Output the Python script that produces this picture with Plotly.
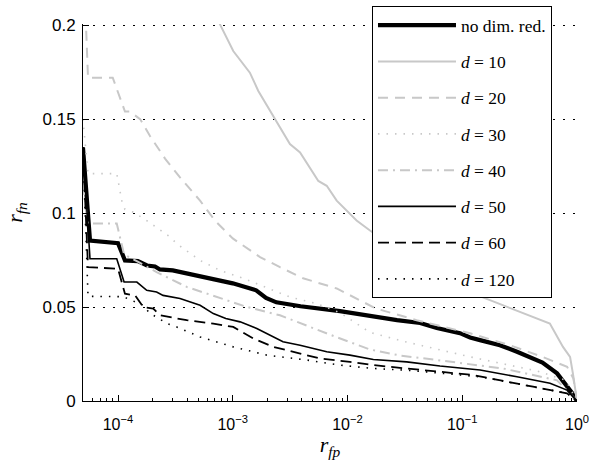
import plotly.graph_objects as go

# ---------------- data ----------------
x_nodim = [4.95e-5, 5.7e-5, 1.0e-4, 1.15e-4, 1.49e-4, 1.79e-4, 2.1e-4, 2.32e-4, 3.0e-4, 5.5e-4,
           1.0e-3, 1.6e-3, 1.95e-3, 2.4e-3, 3.9e-3, 8.6e-3, 0.0157, 0.027, 0.043, 0.06,
           0.0955, 0.117, 0.143, 0.213, 0.3, 0.414, 0.5, 0.67, 0.8, 0.9, 1.0]
y_nodim = [0.135, 0.0854, 0.0840, 0.0748, 0.0744, 0.0721, 0.0716, 0.0700, 0.0695, 0.0660,
           0.0626, 0.0589, 0.0548, 0.0525, 0.0504, 0.0478, 0.0452, 0.0430, 0.0415, 0.0388,
           0.0361, 0.0338, 0.0324, 0.0297, 0.0262, 0.0225, 0.0205, 0.0147, 0.0088, 0.0045, 0.0]

x_d10 = [6.5e-4, 7.74e-4, 1.01e-3, 1.41e-3, 1.67e-3, 2.26e-3, 3.15e-3, 3.86e-3, 5.57e-3, 6.59e-3,
         8.05e-3, 0.012, 0.0157, 0.03, 0.06, 0.125, 0.227, 0.33, 0.58, 0.755, 0.87, 0.92, 1.0]
y_d10 = [0.212, 0.2004, 0.1862, 0.1747, 0.1650, 0.1517, 0.1367, 0.1323, 0.1171, 0.1145,
         0.1066, 0.0960, 0.0907, 0.0790, 0.0680, 0.0571, 0.0509, 0.0474, 0.0412, 0.0288,
         0.0235, 0.0148, 0.0]

x_d20 = [4.95e-5, 5.26e-5, 5.48e-5, 9.0e-5, 1.15e-4, 1.27e-4, 1.56e-4, 1.9e-4, 2.57e-4, 3.47e-4,
         5.19e-4, 7.0e-4, 1.0e-3, 1.73e-3, 2.58e-3, 4.1e-3, 8.05e-3, 0.012, 0.0177, 0.04,
         0.0895, 0.117, 0.26, 0.5, 0.82, 0.93, 1.0]
y_d20 = [0.215, 0.2, 0.172, 0.172, 0.154, 0.154, 0.150, 0.141, 0.129, 0.119,
         0.1066, 0.096, 0.0865, 0.0766, 0.0712, 0.0653, 0.0599, 0.0546, 0.0492, 0.0430,
         0.0380, 0.0360, 0.0297, 0.0235, 0.0182, 0.0120, 0.0]

x_d30 = [4.95e-5, 5.48e-5, 9.75e-5, 1.04e-4, 1.08e-4, 1.15e-4, 1.36e-4, 1.78e-4, 2.17e-4, 2.84e-4,
         3.25e-4, 5.19e-4, 7.74e-4, 1.16e-3, 1.62e-3, 2.26e-3, 3.15e-3, 5.39e-3, 8.6e-3, 0.0157,
         0.0305, 0.117, 0.448, 0.8, 1.0]
y_d30 = [0.150, 0.121, 0.121, 0.113, 0.1066, 0.102, 0.1005, 0.096, 0.0925, 0.0873,
         0.0837, 0.0748, 0.0695, 0.0659, 0.0624, 0.0589, 0.0553, 0.0518, 0.0470, 0.0365,
         0.0318, 0.0235, 0.0160, 0.0110, 0.0]

x_d40 = [4.95e-5, 5.48e-5, 9.75e-5, 1.0e-4, 1.08e-4, 1.13e-4, 1.5e-4, 2.17e-4, 3.97e-4, 7.24e-4,
         1.32e-3, 2.58e-3, 4.41e-3, 8.0e-3, 0.0157, 0.0287, 0.0603, 0.227, 0.67, 1.0]
y_d40 = [0.115, 0.0944, 0.0944, 0.0916, 0.0838, 0.0780, 0.0740, 0.0686, 0.0607, 0.0554,
         0.0501, 0.0456, 0.0400, 0.0340, 0.0274, 0.0242, 0.0218, 0.0173, 0.0110, 0.0]

x_d50 = [4.95e-5, 5.7e-5, 9.75e-5, 1.13e-4, 1.46e-4, 1.78e-4, 2.17e-4, 2.47e-4, 3.47e-4, 5.19e-4,
         6.77e-4, 8.7e-4, 1.16e-3, 1.62e-3, 2.74e-3, 3.86e-3, 6.59e-3, 0.0105, 0.0168, 0.0328,
         0.064, 0.143, 0.3, 0.582, 0.818, 1.0]
y_d50 = [0.135, 0.0757, 0.0757, 0.0633, 0.0633, 0.0589, 0.0580, 0.0562, 0.0545, 0.0509,
         0.0465, 0.0439, 0.0421, 0.0386, 0.0315, 0.0297, 0.0262, 0.0244, 0.0221, 0.0208,
         0.0186, 0.0165, 0.0129, 0.0094, 0.0058, 0.0]

x_d60 = [4.95e-5, 5.48e-5, 1.0e-4, 1.15e-4, 1.41e-4, 1.66e-4, 2.03e-4, 2.32e-4, 3.97e-4, 6.77e-4,
         1.01e-3, 1.51e-3, 2.26e-3, 3.37e-3, 5.76e-3, 0.0105, 0.0168, 0.0328, 0.064, 0.125,
         0.414, 0.818, 1.0]
y_d60 = [0.135, 0.0712, 0.0704, 0.0571, 0.0562, 0.0500, 0.0492, 0.0456, 0.0430, 0.0412,
         0.0394, 0.0333, 0.0288, 0.0262, 0.0226, 0.0208, 0.0191, 0.0173, 0.0155, 0.0138,
         0.0076, 0.0041, 0.0]

x_d120 = [4.95e-5, 5.48e-5, 1.11e-4, 1.66e-4, 1.9e-4, 2.17e-4, 2.66e-4, 3.25e-4, 5.19e-4, 1.01e-3,
          1.98e-3, 3.37e-3, 4.41e-3, 8.6e-3, 0.0168, 0.0328, 0.064, 0.143, 0.414, 0.818, 1.0]
y_d120 = [0.135, 0.0557, 0.0555, 0.0509, 0.0465, 0.0447, 0.0412, 0.0394, 0.0341, 0.0288,
          0.0244, 0.0227, 0.0218, 0.0191, 0.0173, 0.0164, 0.0147, 0.0129, 0.0076, 0.0041, 0.0]

names = ["no dim. red.", "<i>d</i> = 10", "<i>d</i> = 20", "<i>d</i> = 30",
         "<i>d</i> = 40", "<i>d</i> = 50", "<i>d</i> = 60", "<i>d</i> = 120"]

x_tick_vals = [1e-4, 1e-3, 1e-2, 1e-1, 1]
x_tick_text = ["10<sup>\u22124</sup>", "10<sup>\u22123</sup>", "10<sup>\u22122</sup>",
               "10<sup>\u22121</sup>", "10<sup>0</sup>"]
y_tick_vals = [0, 0.05, 0.1, 0.15, 0.2]
y_tick_text = ["0", "0.05", "0.1", "0.15", "0.2"]

# ---------------- styles ----------------
GRAY = "#c8c8c8"
styles = [
    dict(color="black", width=4.2, dash="solid"),
    dict(color=GRAY, width=2, dash="solid"),
    dict(color=GRAY, width=2, dash="10px,7px"),
    dict(color=GRAY, width=1.6, dash="1.5px,7px"),
    dict(color=GRAY, width=2, dash="10px,5px,2px,5px"),
    dict(color="black", width=1.6, dash="solid"),
    dict(color="black", width=1.8, dash="11px,6px"),
    dict(color="black", width=1.6, dash="1.5px,7px"),
]
series = [(x_nodim, y_nodim), (x_d10, y_d10), (x_d20, y_d20), (x_d30, y_d30),
          (x_d40, y_d40), (x_d50, y_d50), (x_d60, y_d60), (x_d120, y_d120)]

fig = go.Figure()
for nm, (xs, ys), st in zip(names, series, styles):
    fig.add_trace(go.Scatter(x=xs, y=ys, mode="lines", name=nm, legendgroup=nm,
                             line=dict(color=st["color"], width=st["width"], dash=st["dash"])))

minor_vals = [m * 10.0 ** e for e in range(-5, 0) for m in range(2, 10)]
SERIF = "Liberation Serif, Times New Roman, serif"

fig.update_layout(
    width=595, height=460,
    margin=dict(l=83, r=18, t=24, b=59, autoexpand=False),
    paper_bgcolor="white", plot_bgcolor="white",
    font=dict(family="Liberation Sans, Arial, sans-serif", size=17, color="black"),
    showlegend=True,
    legend=dict(x=0.585, y=1.047, xanchor="left", yanchor="top",
                bgcolor="white", bordercolor="black", borderwidth=1,
                font=dict(family=SERIF, size=17.5), maxheight=400,
                tracegroupgap=10.5, itemwidth=78, traceorder="grouped"),
    xaxis=dict(type="log", range=[-4.305, 0], showgrid=False, zeroline=False,
               showline=True, linecolor="black", linewidth=1, mirror=False,
               ticks="inside", ticklen=6, tickcolor="black",
               tickfont=dict(size=16), ticklabelstandoff=9,
               tickmode="array", tickvals=x_tick_vals, ticktext=x_tick_text,
               minor=dict(tickmode="array", tickvals=minor_vals, ticks="inside",
                          ticklen=3, tickcolor="black", showgrid=False),
               title=dict(text="<i>r</i><sub><i>fp</i></sub>", standoff=6,
                          font=dict(family=SERIF, size=22))),
    yaxis=dict(range=[0, 0.2006], showgrid=True, gridcolor="black", gridwidth=1.2,
               griddash="1.5px,8.5px", zeroline=False,
               showline=True, linecolor="black", linewidth=1, mirror=False,
               ticks="inside", ticklen=6, tickcolor="black", ticklabelstandoff=3,
               tickmode="array", tickvals=y_tick_vals, ticktext=y_tick_text,
               title=dict(text="<i>r</i><sub><i>fn</i></sub>", standoff=13,
                          font=dict(family=SERIF, size=22))),
)

fig.write_html("out.html", config={"displayModeBar": False},
               post_script="document.body.style.margin='0';")
